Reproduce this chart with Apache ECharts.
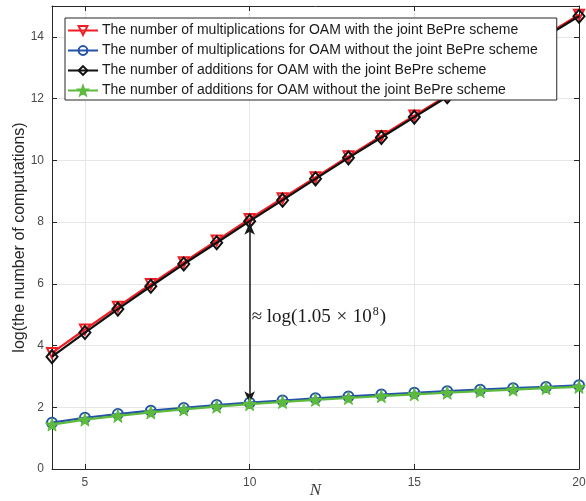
<!DOCTYPE html>
<html>
<head>
<meta charset="utf-8">
<script src="https://cdn.jsdelivr.net/npm/echarts@6/dist/echarts.min.js"></script>
<style>
html,body{margin:0;padding:0;background:#fff;}
#main{width:586px;height:501px;}
</style>
</head>
<body>
<div id="main"></div>
<script>
const N = [4,5,6,7,8,9,10,11,12,13,14,15,16,17,18,19,20];
const multWith    = [3.76,4.52,5.26,5.99,6.70,7.40,8.10,8.77,9.45,10.13,10.79,11.45,12.10,12.75,13.41,14.06,14.72];
const multWithout = [1.50,1.66,1.78,1.89,1.98,2.07,2.15,2.22,2.29,2.35,2.41,2.47,2.52,2.57,2.62,2.66,2.71];
const addWith     = [3.64,4.42,5.18,5.92,6.64,7.33,8.03,8.71,9.40,10.08,10.74,11.40,12.06,12.71,13.37,14.02,14.67];
const addWithout  = [1.44,1.60,1.72,1.83,1.93,2.02,2.10,2.17,2.24,2.30,2.36,2.42,2.47,2.52,2.57,2.62,2.66];
const xTicks = [5,10,15,20];
const yTicks = [0,2,4,6,8,10,12,14];
const names = [
  'The number of multiplications for OAM with the joint BePre scheme',
  'The number of multiplications for OAM without the joint BePre scheme',
  'The number of additions for OAM with the joint BePre scheme',
  'The number of additions for OAM without the joint BePre scheme'
];
const annotN = 10;
const annotLow = 2.13;
const annotHigh = 7.98;
const annotTextY = 4.93;

const pts = arr => N.map((n,i)=>[n, arr[i]]);
const STAR = 'path://M0,-10 L2.35,-3.24 L9.51,-3.09 L3.8,1.24 L5.88,8.09 L0,4 L-5.88,8.09 L-3.8,1.24 L-9.51,-3.09 L-2.35,-3.24 Z';
const axisColor = '#262626';
const labelColor = '#4a4a4a';

const chart = echarts.init(document.getElementById('main'), null, {renderer:'canvas'});
const xBase = {
  type:'value', min:4, max:20,
  axisLine:{show:true, onZero:false, lineStyle:{color:axisColor, width:1}},
  axisTick:{show:true, inside:true, length:5, customValues:xTicks, lineStyle:{color:axisColor}},
  axisLabel:{show:true, customValues:xTicks, color:labelColor, fontSize:12, fontFamily:'Liberation Sans', margin:8},
  splitLine:{show:true, lineStyle:{color:'#e6e6e6', width:1}}
};
const yBase = {
  type:'value', min:0, max:15, interval:1,
  axisLine:{show:true, onZero:false, lineStyle:{color:axisColor, width:1}},
  axisTick:{show:true, inside:true, length:5, customValues:yTicks, lineStyle:{color:axisColor}},
  axisLabel:{show:true, customValues:yTicks, color:labelColor, fontSize:12, fontFamily:'Liberation Sans', margin:8},
  splitLine:{show:true, lineStyle:{color:'#e6e6e6', width:1}}
};
const option = {
  animation:false,
  backgroundColor:'#fff',
  grid:{left:52, right:7, top:6, bottom:32, containLabel:false, outerBoundsMode:'none'},
  xAxis:[
    Object.assign({}, xBase, {position:'bottom', name:'N', nameLocation:'middle', nameGap:13, nameMoveOverlap:false,
      nameTextStyle:{fontFamily:'Liberation Serif', fontStyle:'italic', fontSize:17, color:'#404040'}}),
    Object.assign({}, xBase, {position:'top', axisLabel:{show:false}, splitLine:{show:false}})
  ],
  yAxis:[
    Object.assign({}, yBase, {position:'left', name:'log(the number of computations)', nameLocation:'middle', nameGap:24, nameRotate:90, nameMoveOverlap:false,
      nameTextStyle:{fontFamily:'Liberation Sans', fontSize:16, color:axisColor}}),
    Object.assign({}, yBase, {position:'right', axisLabel:{show:false}, splitLine:{show:false}})
  ],
  legend:{
    show:true, orient:'vertical', left:65, top:18, z:20,
    padding:[5,19,2,2], itemGap:5, itemWidth:30, itemHeight:11,
    backgroundColor:'#fff', borderColor:axisColor, borderWidth:1,
    textStyle:{fontFamily:'Liberation Sans', fontSize:14, lineHeight:15, color:'#1a1a1a', padding:[0,0,0,-1]},
    data:names
  },
  series:[
    {name:names[0], type:'line', data:pts(multWith), symbol:'triangle', symbolRotate:180, symbolSize:10,
     color:'#f01d24', lineStyle:{color:'#f01d24', width:2.2},
     itemStyle:{color:'rgba(255,255,255,0)', borderColor:'#f01d24', borderWidth:2}, z:2},
    {name:names[1], type:'line', data:pts(multWithout), symbol:'circle', symbolSize:10,
     color:'#2452a8', lineStyle:{color:'#2452a8', width:2.2},
     itemStyle:{color:'rgba(255,255,255,0)', borderColor:'#2452a8', borderWidth:2}, z:3},
    {name:names[2], type:'line', data:pts(addWith), symbol:'diamond', symbolSize:[11,13],
     color:'#111111', lineStyle:{color:'#111111', width:2.2},
     itemStyle:{color:'rgba(255,255,255,0)', borderColor:'#111111', borderWidth:2}, z:4,
     markLine:{silent:true, symbol:['arrow','arrow'], symbolSize:[8,12], precision:4,
       lineStyle:{color:'#1a1a1a', width:1.5, type:'solid'}, label:{show:false},
       data:[[{coord:[annotN, annotLow]},{coord:[annotN, annotHigh]}]]},
     markPoint:{silent:true, symbol:'circle', symbolSize:0,
       data:[{coord:[annotN, annotTextY]}],
       label:{show:true, position:'right', distance:2, color:'#1a1a1a',
         formatter:'{a|≈ log(1.05 }{b|×}{a| 10}{s|8}{a|)}',
         rich:{a:{fontFamily:'Liberation Serif', fontSize:19, color:'#1a1a1a'},
               b:{fontFamily:'Liberation Serif', fontSize:19, color:'#1a1a1a', padding:[0,1,0,1]},
               s:{fontFamily:'Liberation Serif', fontSize:12, color:'#1a1a1a', padding:[0,1,10,1]}}}}},
    {name:names[3], type:'line', data:pts(addWithout), symbol:STAR, symbolSize:13,
     color:'#5cbb3c', lineStyle:{color:'#5cbb3c', width:2.2},
     itemStyle:{color:'#5cbb3c', borderColor:'#5cbb3c', borderWidth:1}, z:5}
  ]
};
chart.setOption(option);
</script>
</body>
</html>
